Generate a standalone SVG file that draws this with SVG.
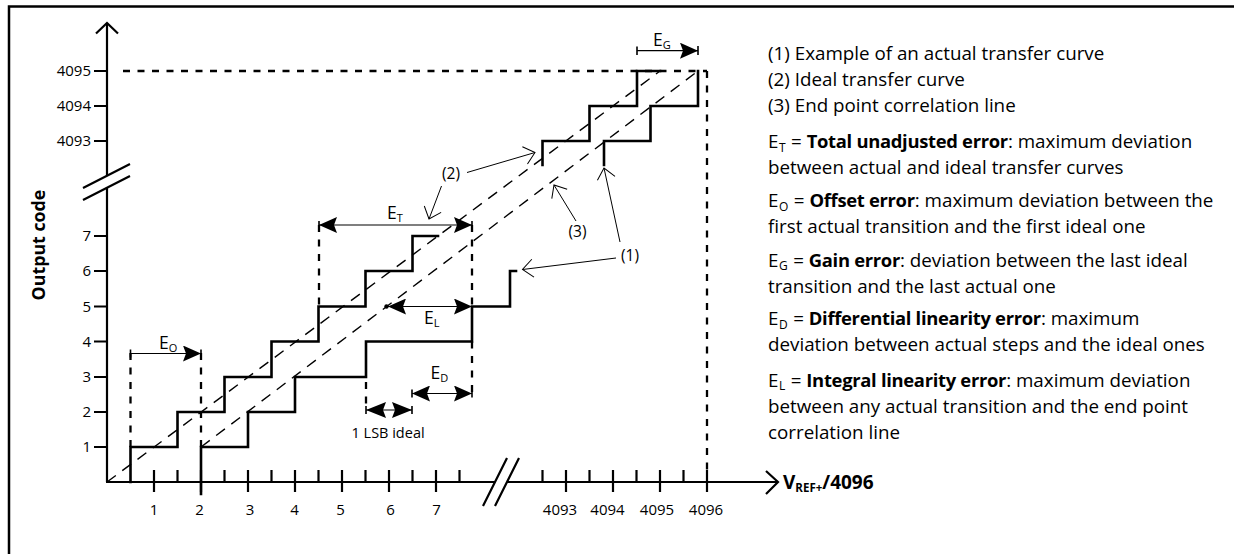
<svg xmlns="http://www.w3.org/2000/svg" width="1234" height="554" viewBox="0 0 1234 554">
<style>
  text { font-family: "Open Sans", "Liberation Sans", sans-serif; fill: #000; }
  .ax { stroke: #000; stroke-width: 2.2; fill: none; }
  .tk { stroke: #000; stroke-width: 2.2; fill: none; }
  .stair { stroke: #000; stroke-width: 2.6; fill: none; stroke-linejoin: miter; stroke-linecap: square; }
  .vd { stroke: #000; stroke-width: 2.3; fill: none; stroke-dasharray: 7 7.5; }
  .diag { stroke: #000; stroke-width: 1.4; fill: none; stroke-dasharray: 11 8; }
  .dim { stroke: #000; stroke-width: 1.2; fill: none; }
  .et { stroke: #000; stroke-width: 1.6; fill: none; }
  .lead { stroke: #000; stroke-width: 1; fill: none; }
  .num { font-size: 15px; }
  .lbl { font-size: 17.5px; }
  .sub { font-size: 11px; }
  .leg { font-size: 18.8px; }
  .legsub { font-size: 12px; }
  .b { font-weight: bold; font-size: 18.4px; letter-spacing: -0.3px; }
</style>
<defs>
  <marker id="dart" viewBox="0 0 18 16" refX="18" refY="8" markerWidth="18" markerHeight="16" markerUnits="userSpaceOnUse" orient="auto-start-reverse">
    <path d="M0,0 L18,8 L0,16 L3,8 Z" fill="#000"/>
  </marker>
  <marker id="dart2" viewBox="0 0 20 16" refX="20" refY="8" markerWidth="20" markerHeight="16" markerUnits="userSpaceOnUse" orient="auto-start-reverse">
    <path d="M0,0 L20,8 L0,16 L3,8 Z" fill="#000"/>
  </marker>
  <marker id="open" viewBox="0 0 11 18" refX="10.5" refY="9" markerWidth="11" markerHeight="18" markerUnits="userSpaceOnUse" orient="auto" overflow="visible">
    <path d="M0,0 L10.5,9 L0,18" fill="none" stroke="#000" stroke-width="1"/>
  </marker>
</defs>

<g id="frame">
  <path d="M9,560 V6.5 H1234" fill="none" stroke="#000" stroke-width="2.5"/>
</g>

<g id="axes">
  <path class="ax" d="M107,482 V187.7 M107,175.7 V23"/>
  <path class="ax" d="M96,33.5 L107,23 L118,33.5"/>
  <path class="ax" d="M83,188 L130,164 M83,200 L130,176" stroke-width="1.8"/>
  <path class="ax" d="M106,482 H495 M507,482 H778"/>
  <path class="ax" d="M766,471 L778,482 L766,494"/>
  <path class="ax" d="M483,506 L507,458 M495,506 L519,458" stroke-width="1.8"/>
  <path class="tk" d="M94,71 H107 M94,106 H107 M94,141 H107 M94,236 H107 M94,271 H107 M94,306.5 H107 M94,341.5 H107 M94,377 H107 M94,412 H107 M94,447 H107"/>
  <path class="tk" d="M154,470 V492 M201,470 V492 M248,470 V492 M295,470 V492 M342,470 V492 M389,470 V492 M436,470 V492 M566,470 V492 M613,470 V492 M660,470 V492 M707,470 V492"/>
  <path class="tk" d="M177.5,470 V482 M224.5,470 V482 M271.5,470 V482 M318.5,470 V482 M365.5,470 V482 M412.5,470 V482 M459.5,470 V482 M542.5,470 V482 M589.5,470 V482 M636.5,470 V482 M683.5,470 V482"/>
</g>

<g id="axis-labels">
  <g class="num" text-anchor="end">
    <text x="91" y="76">4095</text>
    <text x="91" y="111">4094</text>
    <text x="91" y="146">4093</text>
    <text x="91" y="241">7</text>
    <text x="91" y="276">6</text>
    <text x="91" y="311.5">5</text>
    <text x="91" y="346.5">4</text>
    <text x="91" y="382">3</text>
    <text x="91" y="417">2</text>
    <text x="91" y="452">1</text>
  </g>
  <g class="num" text-anchor="middle">
    <text x="154" y="515">1</text>
    <text x="199.5" y="515">2</text>
    <text x="250" y="515">3</text>
    <text x="294.5" y="515">4</text>
    <text x="340.5" y="515">5</text>
    <text x="390.5" y="515">6</text>
    <text x="436.5" y="515">7</text>
    <text x="560" y="515">4093</text>
    <text x="607.5" y="515">4094</text>
    <text x="657" y="515">4095</text>
    <text x="706" y="515">4096</text>
  </g>
  <text x="45" y="245" font-size="17.8" font-weight="bold" text-anchor="middle" transform="rotate(-90 45 245)">Output code</text>
  <text x="783" y="488.5" font-size="19" font-weight="bold">V<tspan font-size="11.5" dy="3">REF+</tspan><tspan dy="-3">/4096</tspan></text>
</g>

<g id="guides">
  <path class="vd" d="M123,71 H707"/>
  <path class="vd" d="M707,71 V470"/>
  <path class="vd" d="M130.5,353 V447"/>
  <path class="vd" d="M201,353 V447"/>
  <path class="vd" d="M319,225 V306.5"/>
  <path class="vd" d="M472,225 V306.5"/>
  <path class="vd" d="M472,341.5 V393.5"/>
  <path class="vd" d="M366,382 V410"/>
</g>

<g id="ideal-line">
  <path class="diag" d="M107,482 L660,71"/>
</g>
<g id="correlation-line">
  <path class="diag" d="M201,447 L698,71"/>
</g>

<g id="ideal-curve">
  <path class="stair" d="M130.5,482 V447 H177.5 V412 H224.5 V377 H271.5 V341.5 H318.5 V306.5 H365.5 V271 H412.5 V236 H438"/>
  <path class="stair" d="M542.5,165 V141 H589.5 V106 H637 V71 H660"/>
</g>
<g id="actual-curve">
  <path class="stair" d="M201,494 V447 H248 V412 H295 V377 H366 V341.5 H472 V306.5 H510 V271 H516"/>
  <path class="stair" d="M604,165 V141 H650.5 V106 H698 V71"/>
</g>

<g id="dimensions">
  <path class="dim" d="M130.5,353.5 H201" marker-end="url(#dart)"/>
  <path class="et" d="M130.5,349.5 V357.5 M201,349.5 V357.5"/>
  <text class="lbl" x="159" y="349">E<tspan class="sub" dy="3">O</tspan></text>
  <path class="dim" d="M319,225 H472" marker-start="url(#dart)" marker-end="url(#dart)"/>
  <path class="et" d="M319,221 V229 M472,221 V229"/>
  <text class="lbl" x="387" y="219">E<tspan class="sub" dy="3">T</tspan></text>
  <path class="dim" d="M388,306.5 H472" marker-start="url(#dart)" marker-end="url(#dart)"/>
  <circle cx="386.5" cy="306.5" r="2.2" fill="#000"/>
  <text class="lbl" x="424" y="323.5">E<tspan class="sub" dy="3">L</tspan></text>
  <path class="dim" d="M412,393.5 H472" marker-start="url(#dart)" marker-end="url(#dart)"/>
  <path class="et" d="M412,389.5 V397.5 M472,389.5 V397.5"/>
  <text class="lbl" x="430.5" y="378.5">E<tspan class="sub" dy="3">D</tspan></text>
  <path class="dim" d="M366,410 H412" marker-start="url(#dart2)" marker-end="url(#dart2)"/>
  <path class="et" d="M366,406 V414 M412,406 V414"/>
  <text x="351.5" y="438" font-size="14.5">1 LSB ideal</text>
  <path class="dim" d="M637,50.7 H698" marker-end="url(#dart)"/>
  <path class="et" d="M637,46.5 V55 M698,46 V55"/>
  <text class="lbl" x="653" y="46">E<tspan class="sub" dy="3">G</tspan></text>
</g>

<g id="connectors">
  <path class="lead" d="M467,172.5 L535,152.5" marker-end="url(#open)"/>
  <path class="lead" d="M441.5,186 L429,219" marker-end="url(#open)"/>
  <path class="lead" d="M576,221 L554,185" marker-end="url(#open)"/>
  <path class="lead" d="M616,258 L522.5,269.5" marker-end="url(#open)"/>
  <path class="lead" d="M620,242 L604,168" marker-end="url(#open)"/>
</g>

<g id="callouts" font-size="15.5" text-anchor="middle">
  <text x="451" y="178.5">(2)</text>
  <text x="577.5" y="237">(3)</text>
  <text x="630" y="260.5">(1)</text>
</g>

<g id="legend">
  <text class="leg" x="768" y="60">(1) Example of an actual transfer curve</text>
  <text class="leg" x="768" y="86">(2) Ideal transfer curve</text>
  <text class="leg" x="768" y="111.5">(3) End point correlation line</text>
  <text class="leg" x="768" y="148">E<tspan class="legsub" dx="0.5" dy="3.5">T</tspan><tspan dx="5.5" dy="-3.5">= </tspan><tspan class="b">Total unadjusted error</tspan>: maximum deviation</text>
  <text class="leg" x="768" y="173.5">between actual and ideal transfer curves</text>
  <text class="leg" x="768" y="207">E<tspan class="legsub" dx="0.5" dy="3.5">O</tspan><tspan dx="5.5" dy="-3.5">= </tspan><tspan class="b">Offset error</tspan>: maximum deviation between the</text>
  <text class="leg" x="768" y="232.5">first actual transition and the first ideal one</text>
  <text class="leg" x="768" y="266.5">E<tspan class="legsub" dx="0.5" dy="3.5">G</tspan><tspan dx="5.5" dy="-3.5">= </tspan><tspan class="b">Gain error</tspan>: deviation between the last ideal</text>
  <text class="leg" x="768" y="293">transition and the last actual one</text>
  <text class="leg" x="768" y="325">E<tspan class="legsub" dx="0.5" dy="3.5">D</tspan><tspan dx="5.5" dy="-3.5">= </tspan><tspan class="b">Differential linearity error</tspan>: maximum</text>
  <text class="leg" x="768" y="350.5">deviation between actual steps and the ideal ones</text>
  <text class="leg" x="768" y="386.5">E<tspan class="legsub" dx="0.5" dy="3.5">L</tspan><tspan dx="5.5" dy="-3.5">= </tspan><tspan class="b">Integral linearity error</tspan>: maximum deviation</text>
  <text class="leg" x="768" y="413">between any actual transition and the end point</text>
  <text class="leg" x="768" y="439">correlation line</text>
</g>
</svg>
